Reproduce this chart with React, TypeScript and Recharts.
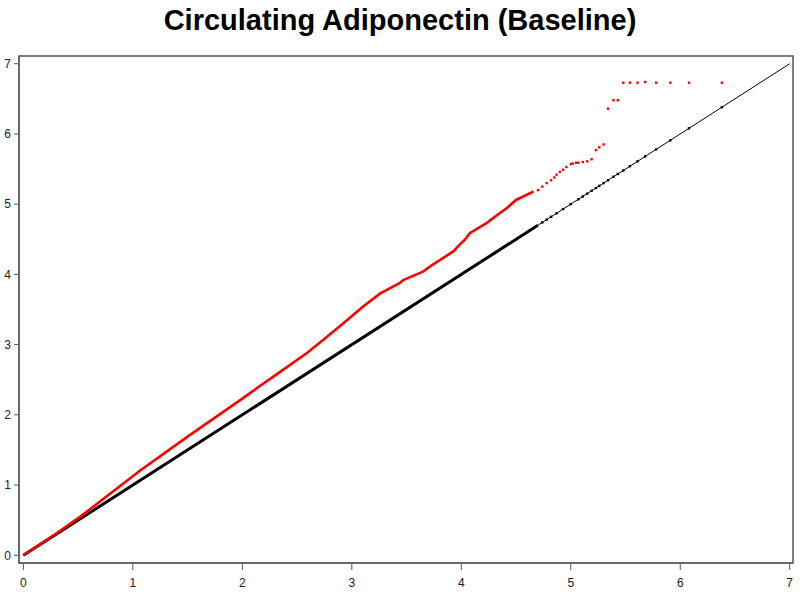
import React from "react";
import {
  ComposedChart,
  Line,
  Scatter,
  XAxis,
  YAxis,
  ReferenceLine,
  ReferenceArea,
} from "recharts";

// expected -log10(p) vs observed -log10(p), dense part drawn as a line
const redDenseX = [
  0, 0.3, 0.52, 1.07, 1.5, 1.98, 2.16, 2.28, 2.59, 2.74, 2.89, 2.98, 3.1, 3.26,
  3.44, 3.47, 3.65, 3.74, 3.93, 3.97, 4.03, 4.08, 4.23, 4.35, 4.42, 4.5, 4.58,
  4.66,
];
const redDenseY = [
  0, 0.31, 0.55, 1.21, 1.69, 2.21, 2.41, 2.54, 2.88, 3.07, 3.26, 3.38, 3.54, 3.73,
  3.88, 3.92, 4.04, 4.14, 4.33, 4.4, 4.49, 4.59, 4.73, 4.87, 4.95, 5.06, 5.12,
  5.18,
];

// sparse tail, drawn as points
const redTailX = [
  4.7, 4.74, 4.78, 4.82, 4.85, 4.87, 4.9, 4.93, 4.96, 5.0, 5.02, 5.05, 5.07,
  5.11, 5.15, 5.19, 5.23, 5.26, 5.3, 5.34, 5.39, 5.43, 5.48, 5.54, 5.61, 5.68,
  5.78, 5.91, 6.08, 6.38,
];
const redTailY = [
  5.2, 5.25, 5.3, 5.34, 5.38, 5.42, 5.46, 5.49, 5.53, 5.57, 5.58, 5.59, 5.59,
  5.6, 5.61, 5.64, 5.77, 5.81, 5.85, 6.36, 6.48, 6.48, 6.73, 6.73, 6.73, 6.74,
  6.73, 6.73, 6.73, 6.73,
];

// expected vs expected (black diagonal)
const blackDenseX = [0, 4.7];
const blackTailX = [
  4.74, 4.78, 4.82, 4.87, 4.93, 5.0, 5.07, 5.11, 5.15, 5.19, 5.23, 5.26, 5.3,
  5.34, 5.39, 5.43, 5.48, 5.54, 5.61, 5.68, 5.78, 5.91, 6.08, 6.38,
];

const ticks = [0, 1, 2, 3, 4, 5, 6, 7];

const redDense = redDenseX.map((x, i) => ({ x, y: redDenseY[i] }));
const redTail = redTailX.map((x, i) => ({ x, y: redTailY[i] }));
const blackDense = blackDenseX.map((x) => ({ x, y: x }));
const blackTail = blackTailX.map((x) => ({ x, y: x }));

const font = "'Liberation Sans', Arial, sans-serif";

const Dot = (props: any) => (
  <rect x={props.cx - 1.2} y={props.cy - 1.2} width={2.4} height={2.4} fill={props.fill} />
);

export default function App() {
  return (
    <div
      style={{
        position: "absolute",
        left: 0,
        top: 0,
        width: 800,
        height: 594,
        background: "#fff",
        fontFamily: font,
      }}
    >
      <div
        style={{
          position: "absolute",
          top: 6,
          left: 0,
          width: 800,
          textAlign: "center",
          fontSize: 29,
          lineHeight: "29px",
          fontWeight: "bold",
          color: "#000",
        }}
      >
        Circulating Adiponectin (Baseline)
      </div>
      <ComposedChart
        width={800}
        height={594}
        margin={{ top: 56, right: 7, left: 0, bottom: 0 }}
        style={{ position: "absolute", left: 0, top: 0 }}
      >
        <XAxis
          dataKey="x"
          type="number"
          domain={[-0.04, 7.03]}
          allowDataOverflow
          ticks={ticks}
          height={31}
          tickSize={7}
          tickMargin={8}
          stroke="#555"
          tick={{ fill: "#222", fontSize: 12, fontFamily: font }}
        />
        <YAxis
          dataKey="y"
          type="number"
          domain={[-0.11, 7.11]}
          allowDataOverflow
          ticks={ticks}
          width={19}
          tickSize={5}
          tickMargin={3}
          stroke="#555"
          tick={{ fill: "#222", fontSize: 12, fontFamily: font }}
        />
        <ReferenceArea
          x1={-0.04}
          x2={7.03}
          y1={-0.11}
          y2={7.11}
          fill="none"
          stroke="#555"
          strokeWidth={1.5}
        />
        <ReferenceLine
          segment={[
            { x: 0, y: 0 },
            { x: 7, y: 7 },
          ]}
          stroke="#000"
          strokeWidth={1}
        />
        <Line
          data={blackDense}
          dataKey="y"
          stroke="#000"
          strokeWidth={3}
          dot={false}
          isAnimationActive={false}
        />
        <Scatter
          data={blackTail}
          dataKey="y"
          fill="#000"
          shape={Dot}
          isAnimationActive={false}
        />
        <Line
          data={redDense}
          dataKey="y"
          stroke="#ff0000"
          strokeWidth={2.6}
          dot={false}
          isAnimationActive={false}
        />
        <Scatter
          data={redTail}
          dataKey="y"
          fill="#ff0000"
          shape={Dot}
          isAnimationActive={false}
        />
      </ComposedChart>
    </div>
  );
}
